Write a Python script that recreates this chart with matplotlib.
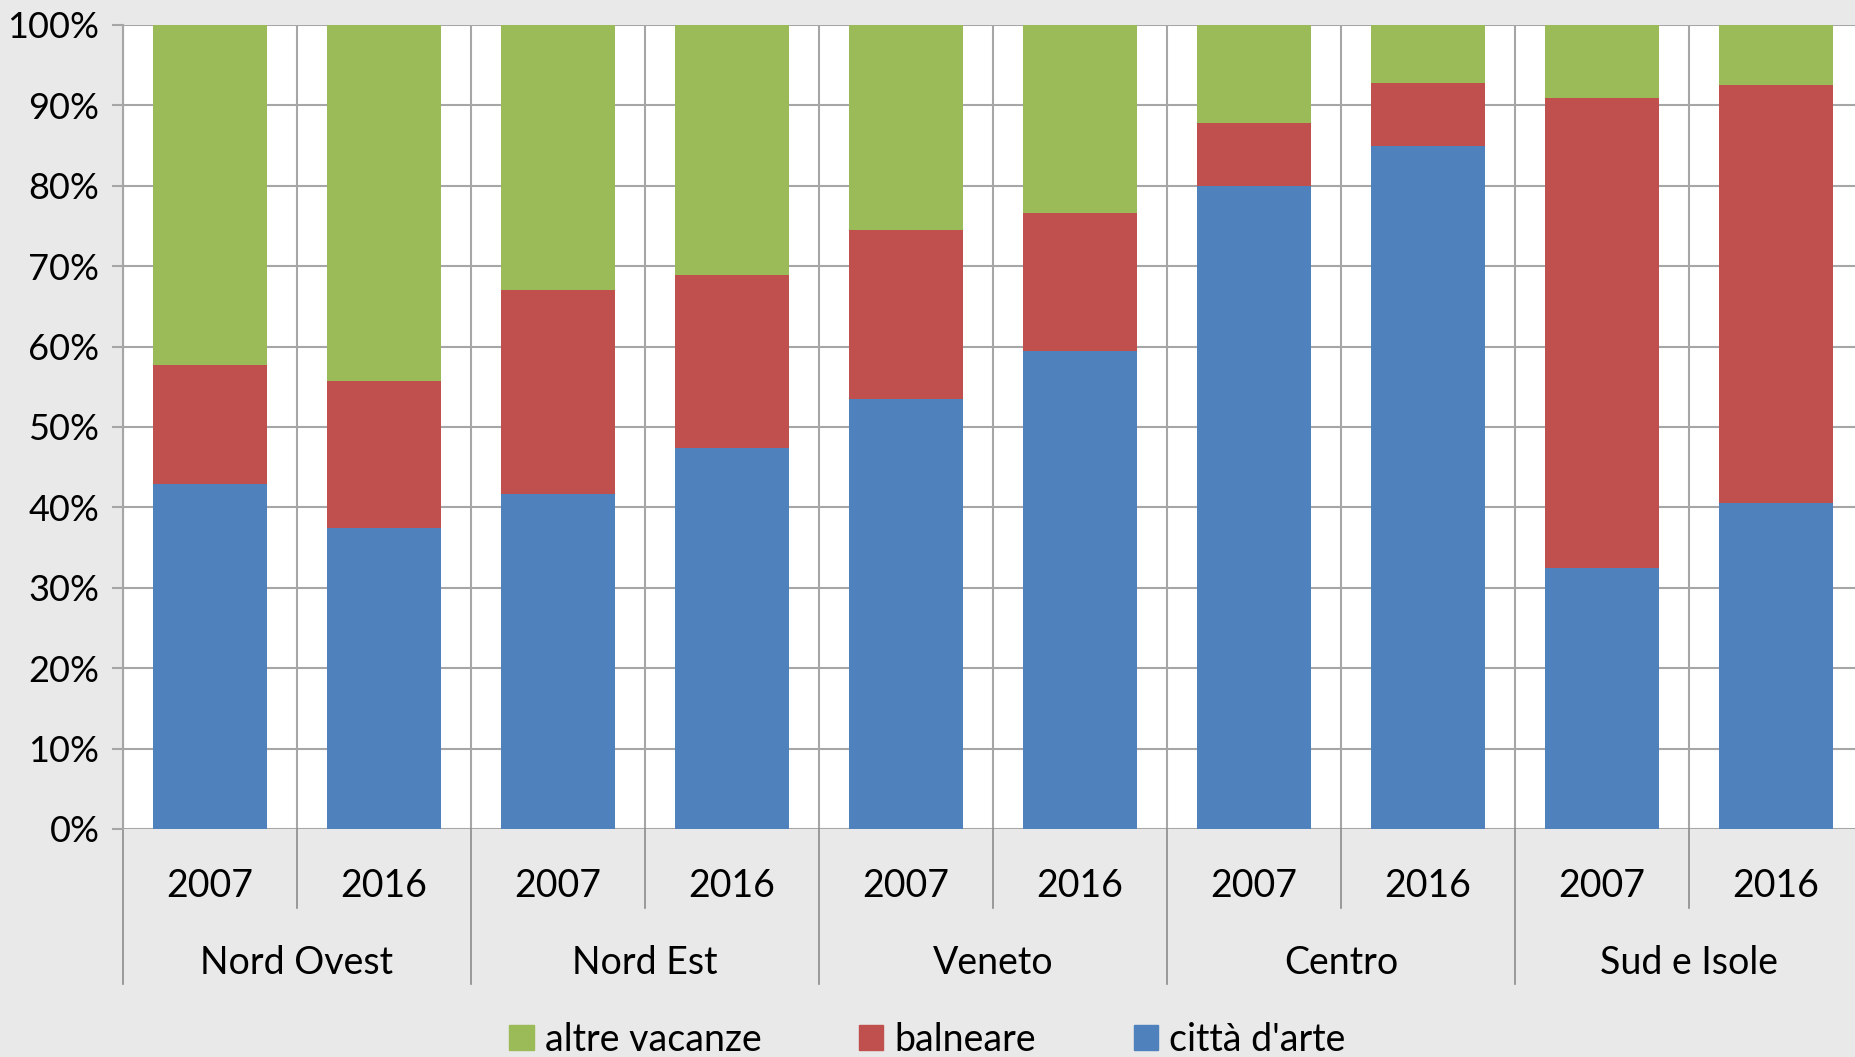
import matplotlib
matplotlib.use("Agg")
import matplotlib.pyplot as plt
import numpy as np
from matplotlib.patches import Patch
import matplotlib.transforms as mtransforms

regions = ["Nord Ovest", "Nord Est", "Veneto", "Centro", "Sud e Isole"]
years = ["2007", "2016"]
citta_arte = [42.9, 37.4, 41.7, 47.4, 53.5, 59.4, 80.0, 85.0, 32.5, 40.5]
balneare = [14.8, 18.3, 25.3, 21.5, 21.0, 17.2, 7.8, 7.8, 58.4, 52.0]
altre_vacanze = [100 - c - b for c, b in zip(citta_arte, balneare)]
yticks = [0, 10, 20, 30, 40, 50, 60, 70, 80, 90, 100]

C_BLUE = "#4F81BD"
C_RED = "#C0504D"
C_GREEN = "#9BBB59"
GRID = "#a6a6a6"

plt.rcParams["font.family"] = ["Lato", "DejaVu Sans"]

W, H = 1855, 1057
fig = plt.figure(figsize=(W / 100, H / 100), dpi=100)
fig.patch.set_facecolor("#e9e9e9")

left, right, bottom, top = 123 / W, 1863 / W, 1 - 829 / H, 1 - 25 / H
ax = fig.add_axes([left, bottom, right - left, top - bottom])
ax.set_facecolor("white")

n = len(citta_arte)
x = np.arange(n)
bw = 0.66
c = np.array(citta_arte)
b = np.array(balneare)
a = np.array(altre_vacanze)
ax.bar(x, c, bw, color=C_BLUE, zorder=3)
ax.bar(x, b, bw, bottom=c, color=C_RED, zorder=3)
ax.bar(x, a, bw, bottom=c + b, color=C_GREEN, zorder=3)

ax.set_xlim(-0.5, n - 0.5)
ax.set_ylim(0, 100)
ax.set_yticks(yticks)
ax.set_yticklabels([f"{v}%" for v in yticks], fontsize=26)
ax.tick_params(axis="y", length=8, color=GRID, width=1.5, pad=9)
ax.set_xticks([])
for yv in yticks:
    ax.axhline(yv, color=GRID, lw=1.5, zorder=1)
for xv in np.arange(-0.5, n, 1.0):
    ax.axvline(xv, color=GRID, lw=1.5, zorder=1)
for s in ["top", "right", "bottom"]:
    ax.spines[s].set_visible(False)
ax.spines["left"].set_color(GRID)
ax.spines["left"].set_linewidth(1.5)

trans = mtransforms.blended_transform_factory(ax.transData, ax.transAxes)
for i in range(n):
    ax.text(x[i], -0.071, years[i % 2], transform=trans, ha="center", va="center", fontsize=27)
for g, name in enumerate(regions):
    ax.text(2 * g + 0.5, -0.167, name, transform=trans, ha="center", va="center", fontsize=27)
# separators
for g in range(len(regions) + 1):
    xb = 2 * g - 0.5
    ax.plot([xb, xb], [0, -0.193], transform=trans, color="#8c8c8c", lw=1.2, clip_on=False)
for g in range(len(regions)):
    xb = 2 * g + 0.5
    ax.plot([xb, xb], [0, -0.098], transform=trans, color="#8c8c8c", lw=1.2, clip_on=False)

handles = [Patch(color=C_GREEN, label="altre vacanze"),
           Patch(color=C_RED, label="balneare"),
           Patch(color=C_BLUE, label="città d'arte")]
fig.legend(handles=handles, loc="center", bbox_to_anchor=(0.5, 0.016), ncol=3,
           frameon=False, fontsize=27, handlelength=0.65, handleheight=0.65,
           handletextpad=0.3, columnspacing=2.6)

fig.savefig("out.png", dpi=100, facecolor=fig.get_facecolor())
